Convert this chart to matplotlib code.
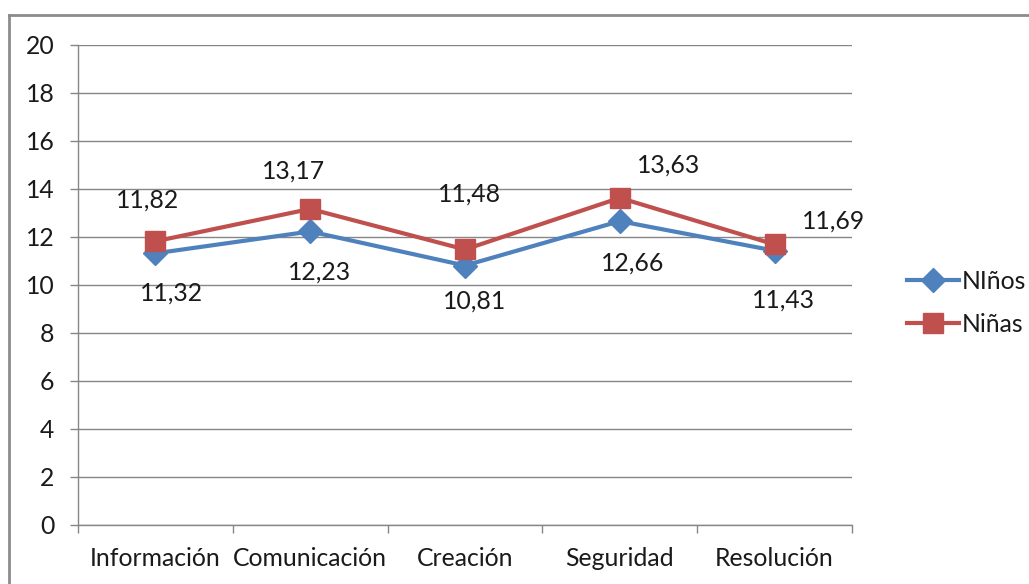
import matplotlib
matplotlib.use("Agg")
import matplotlib.pyplot as plt
from matplotlib.lines import Line2D

plt.rcParams["font.family"] = ["Lato", "DejaVu Sans"]

# --- datos ---
categorias = ["Información", "Comunicación", "Creación", "Seguridad", "Resolución"]
ninos = [11.32, 12.23, 10.81, 12.66, 11.43]
ninas = [11.82, 13.17, 11.48, 13.63, 11.69]
yticks = [0, 2, 4, 6, 8, 10, 12, 14, 16, 18, 20]

AZUL = "#4F81BD"
ROJO = "#C0504D"
GRIS = "#868686"
TXT = "#1a1a1a"
FS = 17.8

W, H = 1029, 584
fig = plt.figure(figsize=(W / 100, H / 100), dpi=100)
ax = fig.add_axes([78 / W, (H - 525) / H, (852 - 78) / W, (525 - 45) / H])

x = range(len(categorias))
ax.plot(x, ninos, color=AZUL, lw=3, marker="D", ms=12, label="NIños", zorder=3)
ax.plot(x, ninas, color=ROJO, lw=3, marker="s", ms=15, label="Niñas", zorder=4)

# etiquetas de datos (desplazamientos en píxeles, como en el original)
off_ninas = [(-8, 41), (-17, 38), (4, 55), (49, 33), (59, 23)]
off_ninos = [(16, -40), (9, -41), (10, -36), (13, -42), (9, -49)]
for i, v in enumerate(ninas):
    dx, dy = off_ninas[i]
    ax.annotate(f"{v:.2f}".replace(".", ","), (i, v), xytext=(dx * 0.72, dy * 0.72),
                textcoords="offset points", ha="center", va="center",
                fontsize=FS, color=TXT)
for i, v in enumerate(ninos):
    dx, dy = off_ninos[i]
    ax.annotate(f"{v:.2f}".replace(".", ","), (i, v), xytext=(dx * 0.72, dy * 0.72),
                textcoords="offset points", ha="center", va="center",
                fontsize=FS, color=TXT)

ax.set_xlim(-0.5, len(categorias) - 0.5)
ax.set_ylim(0, 20)
ax.set_yticks(yticks)
ax.set_yticklabels([str(t) for t in yticks])
ax.set_xticks(list(x))
ax.set_xticklabels(categorias)
ax.set_xticks([i - 0.5 for i in range(len(categorias) + 1)], minor=True)

ax.grid(axis="y", color=GRIS, lw=1)
ax.set_axisbelow(True)
for s in ("top", "right"):
    ax.spines[s].set_visible(False)
for s in ("left", "bottom"):
    ax.spines[s].set_color(GRIS)
    ax.spines[s].set_linewidth(1)

ax.tick_params(axis="y", length=6, width=1, color=GRIS, pad=11, labelsize=FS, labelcolor=TXT)
ax.tick_params(axis="x", which="major", length=0, pad=16, labelsize=FS, labelcolor=TXT)
ax.tick_params(axis="x", which="minor", length=6, width=1, color=GRIS)

# leyenda
handles = [Line2D([], [], color=AZUL, lw=3, marker="D", ms=12),
           Line2D([], [], color=ROJO, lw=3, marker="s", ms=15)]
fig.legend(handles, ["NIños", "Niñas"], loc="center left",
           bbox_to_anchor=(885 / W, 1 - 303 / H), frameon=False, fontsize=FS,
           handlelength=2.1, handletextpad=0.1, labelspacing=0.8,
           labelcolor=TXT)

# marco exterior
fig.add_artist(Line2D([9 / W, 1], [1 - 15 / H, 1 - 15 / H], color="#8c8c8c", lw=2))
fig.add_artist(Line2D([9 / W, 9 / W], [0, 1 - 15 / H], color="#8c8c8c", lw=2))

fig.savefig("out.png", dpi=100, facecolor="white")
